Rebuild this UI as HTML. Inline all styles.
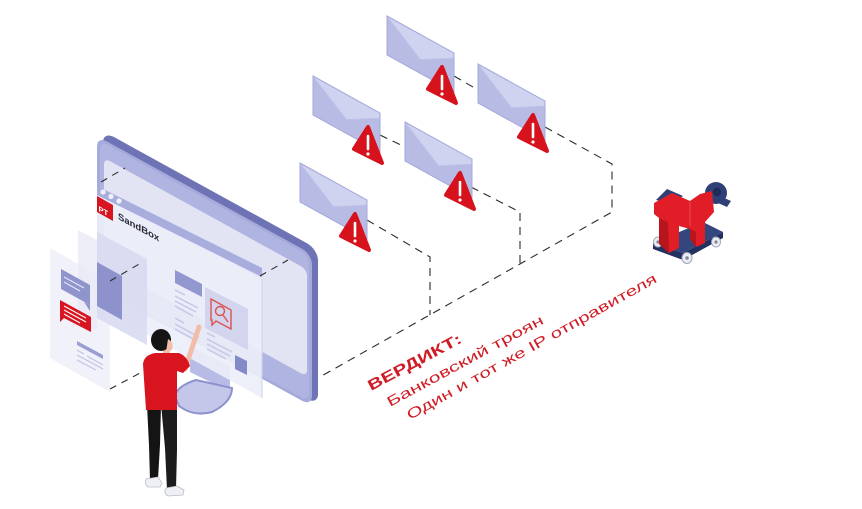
<!DOCTYPE html>
<html><head><meta charset="utf-8"><style>html,body{margin:0;padding:0;background:#fff}svg{display:block}</style></head>
<body>
<svg width="862" height="509" viewBox="0 0 862 509" xmlns="http://www.w3.org/2000/svg" xmlns:xlink="http://www.w3.org/1999/xlink">
<defs>
<g id="env">
 <polygon points="0,0 67,37 67,76 0,39" fill="#b8bce5"/>
 <polygon points="0,0 67,37 67,42 33.5,43.5" fill="#d0d3f0"/>
 <polyline points="0,0 33.5,43.5 67,42" fill="none" stroke="#c2c5ea" stroke-width="0.8"/>
 <polygon points="0,0 67,37 67,76 0,39" fill="none" stroke="#a3a8d9" stroke-width="1"/>
 <polygon points="55,51 41,73 69,87" fill="#d6131d" stroke="#d6131d" stroke-width="4" stroke-linejoin="round"/>
 <line x1="55" y1="60" x2="55" y2="73" stroke="#fff" stroke-width="2.6" stroke-linecap="round"/>
 <circle cx="55" cy="78" r="1.6" fill="#fff"/>
</g>
</defs>
<rect width="862" height="509" fill="#fff"/>

<!-- dashed connectors -->
<g fill="none" stroke="#2b2b2b" stroke-width="1.1" stroke-dasharray="8 6">
 <path d="M454,76 L478,90"/>
 <path d="M545,127 L612,164 L612,212 L318,378"/>
 <path d="M380,135 L405,147"/>
 <path d="M471,187 L520,212 L520,263"/>
 <path d="M367,220 L430,257 L430,315"/>
</g>

<!-- envelopes -->
<use xlink:href="#env" x="387" y="16"/>
<use xlink:href="#env" x="313" y="76"/>
<use xlink:href="#env" x="478" y="64"/>
<use xlink:href="#env" x="405" y="122"/>
<use xlink:href="#env" x="300" y="163"/>

<!-- monitor -->
<g transform="matrix(1,0.55,0,1,103,131)"><rect width="215" height="156" rx="11" fill="#6d73b5"/></g>
<g transform="matrix(1,0.55,0,1,97,136)">
 <rect width="215" height="152" rx="10" fill="#a5aadb"/>
 <rect x="3" y="3" width="209" height="146" rx="8" fill="#b0b4e1"/>
 <rect x="7" y="18" width="203" height="107" rx="6" fill="#e2e4f4"/>
</g>
<!-- stand neck + base -->
<polygon points="190,345 230,367 230,392 190,372" fill="#b8bbe5"/>
<path d="M175,396 Q177,386 196,380 L232,388 Q232,402 212,412 Q194,417 179,406 Z" fill="#c4c7ea" stroke="#8d92cd" stroke-width="2"/>

<!-- left faint panels -->
<polygon points="50,248 110,282 110,392 50,358" fill="#eff0f9" opacity="0.95"/>
<polygon points="78,230 97,240 97,330 78,320" fill="#e9eaf6" opacity="0.8"/>

<!-- big translucent panel -->
<polygon points="97,188 262,279 262,398 97,307" fill="#eceef9" opacity="0.92"/>
<polygon points="97,186 262,268 262,277 97,195" fill="#a9addd"/>
<circle cx="103" cy="192" r="2.6" fill="#eef0fa"/>
<circle cx="111" cy="196.5" r="2.6" fill="#eef0fa"/>
<circle cx="119" cy="201" r="2.6" fill="#eef0fa"/>
<polygon points="97,196 113,205 113,221 97,212" fill="#d7141f"/>
<text transform="matrix(1,0.55,0,1,98.5,211)" font-family="'Liberation Sans', sans-serif" font-size="7.5" font-weight="bold" fill="#fff">PT</text>
<text transform="matrix(1,0.55,0,1,118,219)" font-family="'Liberation Sans', sans-serif" font-size="9.5" font-weight="bold" fill="#2a2a3a">SandBox</text>

<!-- left column card -->
<polygon points="97,232 147,259 147,345 97,318" fill="#d8daf1" opacity="0.9"/>
<polygon points="97,262 122,276 122,320 97,306" fill="#8d92cc"/>

<!-- page content -->
<polygon points="175,270 202,284 202,297 175,283" fill="#9297cf"/>
<g stroke="#c3c6e6" stroke-width="1.3">
 <line x1="175" y1="290" x2="185" y2="295"/>
 <line x1="175" y1="296" x2="198" y2="308"/>
 <line x1="175" y1="301" x2="196" y2="312"/>
 <line x1="175" y1="306" x2="193" y2="316"/>
 <line x1="175" y1="318" x2="184" y2="323"/>
 <line x1="175" y1="324" x2="199" y2="337"/>
 <line x1="175" y1="329" x2="197" y2="341"/>
</g>
<polygon points="205,287 248,309 248,350 205,328" fill="#d3d5ee"/>
<g fill="none" stroke="#d9534f" stroke-width="1.4">
 <polygon points="211,299 231,310 231,329 216,321 212,325 212,320 211,320"/>
 <circle cx="220" cy="311" r="4.5"/>
 <line x1="223" y1="315" x2="228" y2="322"/>
</g>
<g stroke="#c3c6e6" stroke-width="1.3">
 <line x1="207" y1="333" x2="215" y2="337"/>
 <line x1="207" y1="339" x2="232" y2="352"/>
 <line x1="207" y1="344" x2="230" y2="356"/>
 <line x1="207" y1="349" x2="226" y2="359"/>
</g>
<polygon points="235,355 247,361 247,375 235,369" fill="#8489c8"/>
<line x1="262" y1="279" x2="262" y2="398" stroke="#cfd1ec" stroke-width="1"/>

<!-- left cards -->
<polygon points="61,269 90,285 90,305 61,289" fill="#9094cd"/>
<polygon points="84,302 90,305 90,311" fill="#9094cd"/>
<g stroke="#e6e7f6" stroke-width="1.1">
 <line x1="64" y1="277" x2="84" y2="288"/>
 <line x1="64" y1="282" x2="80" y2="291"/>
</g>
<polygon points="60,300 91,317 91,332 60,316" fill="#d7141f"/>
<polygon points="60,314 65,317 60,322" fill="#d7141f"/>
<g stroke="#fff" stroke-width="1.1">
 <line x1="64" y1="306" x2="86" y2="318"/>
 <line x1="64" y1="310" x2="86" y2="322"/>
 <line x1="64" y1="314" x2="80" y2="323"/>
</g>
<polygon points="77,341 103,355 103,359 77,345" fill="#9a9ed6"/>
<g stroke="#c0c3e6" stroke-width="1.1">
 <line x1="77" y1="350" x2="84" y2="354"/>
 <line x1="87" y1="356" x2="103" y2="365"/>
 <line x1="77" y1="355" x2="103" y2="369"/>
 <line x1="77" y1="360" x2="96" y2="370"/>
</g>

<!-- dash fragments through panels -->
<g fill="none" stroke="#2b2b2b" stroke-width="1.1" stroke-dasharray="7 6">
 <path d="M101,182 L125,168"/>
 <path d="M110,281 L141,263"/>
 <path d="M260,276 L288,260"/>
 <path d="M110,389 L142,372"/>
</g>

<!-- person -->
<path d="M147,405 L161,405 L160,445 L158,479 L150,480 L149,445 Z" fill="#141414"/>
<path d="M161,404 L177,404 L177,450 L176,489 L167,490 L165,448 Z" fill="#1c1c1c"/>
<path d="M146,479 L158,477 L162,483 L160,487 L148,487 Q144,484 146,479 Z" fill="#eef0f5" stroke="#b9bccb" stroke-width="0.8"/>
<path d="M166,488 L177,486 L184,490 L183,495 L168,496 Q163,493 166,488 Z" fill="#eef0f5" stroke="#b9bccb" stroke-width="0.8"/>
<path d="M185,369 L199,327" stroke="#f2bca8" stroke-width="5" stroke-linecap="round"/>
<rect x="163" y="345" width="7" height="10" fill="#f2bca8"/>
<path d="M143,364 Q144,355 155,353 L179,353 Q187,356 190,366 L183,373 L177,371 L177,410 L146,410 Z" fill="#d8141e"/>
<ellipse cx="161" cy="340" rx="10" ry="11" fill="#151515"/>
<path d="M168,339 Q174,342 172,350 L166,352 Z" fill="#f2bca8"/>

<!-- trojan horse -->
<polygon points="653,243 703,222 723,232 683,253" fill="#34467e"/>
<polygon points="653,243 683,253 723,232 723,238 683,260 653,249" fill="#22315f"/>
<g fill="#eceef4" stroke="#a0a6bd" stroke-width="1">
 <ellipse cx="658" cy="242" rx="4.5" ry="5"/>
 <ellipse cx="687" cy="258" rx="5" ry="5.5"/>
 <ellipse cx="716" cy="242" rx="4.5" ry="5"/>
</g>
<g fill="#7d84a0"><circle cx="658" cy="242" r="1.6"/><circle cx="687" cy="258" r="1.8"/><circle cx="716" cy="242" r="1.6"/></g>
<circle cx="716" cy="193" r="11" fill="#2f4079"/>
<path d="M722,197 L731,201 L727,207 L718,203 Z" fill="#2f4079"/>
<circle cx="717" cy="192" r="4.2" fill="#1f2c5a"/>
<polygon points="656,200 667,189 683,196 671,204" fill="#2f4079"/>
<polygon points="654,203 672,193 690,201 700,194 712,191 714,212 705,222 705,243 696,247 690,239 690,229 679,226 679,248 669,253 659,244 659,218 654,214" fill="#e11d27"/>
<polygon points="659,218 668,222 669,253 659,244" fill="#b8141c"/>
<polygon points="690,229 696,232 696,247 690,239" fill="#b8141c"/>
<polyline points="690,202 690,226" fill="none" stroke="#f0555c" stroke-width="0.8"/>

<!-- verdict text -->
<g fill="#cf1c25" font-family="'Liberation Sans', 'DejaVu Sans', sans-serif">
 <text transform="translate(371,391) rotate(-28)" font-size="15" font-weight="bold" textLength="104" lengthAdjust="spacingAndGlyphs">ВЕРДИКТ:</text>
 <text transform="translate(390,407) rotate(-28.5)" font-size="14" textLength="176" lengthAdjust="spacingAndGlyphs">Банковский троян</text>
 <text transform="translate(410,420) rotate(-29.2)" font-size="14" textLength="284" lengthAdjust="spacingAndGlyphs">Один и тот же IP отправителя</text>
</g>
</svg>
</body></html>
